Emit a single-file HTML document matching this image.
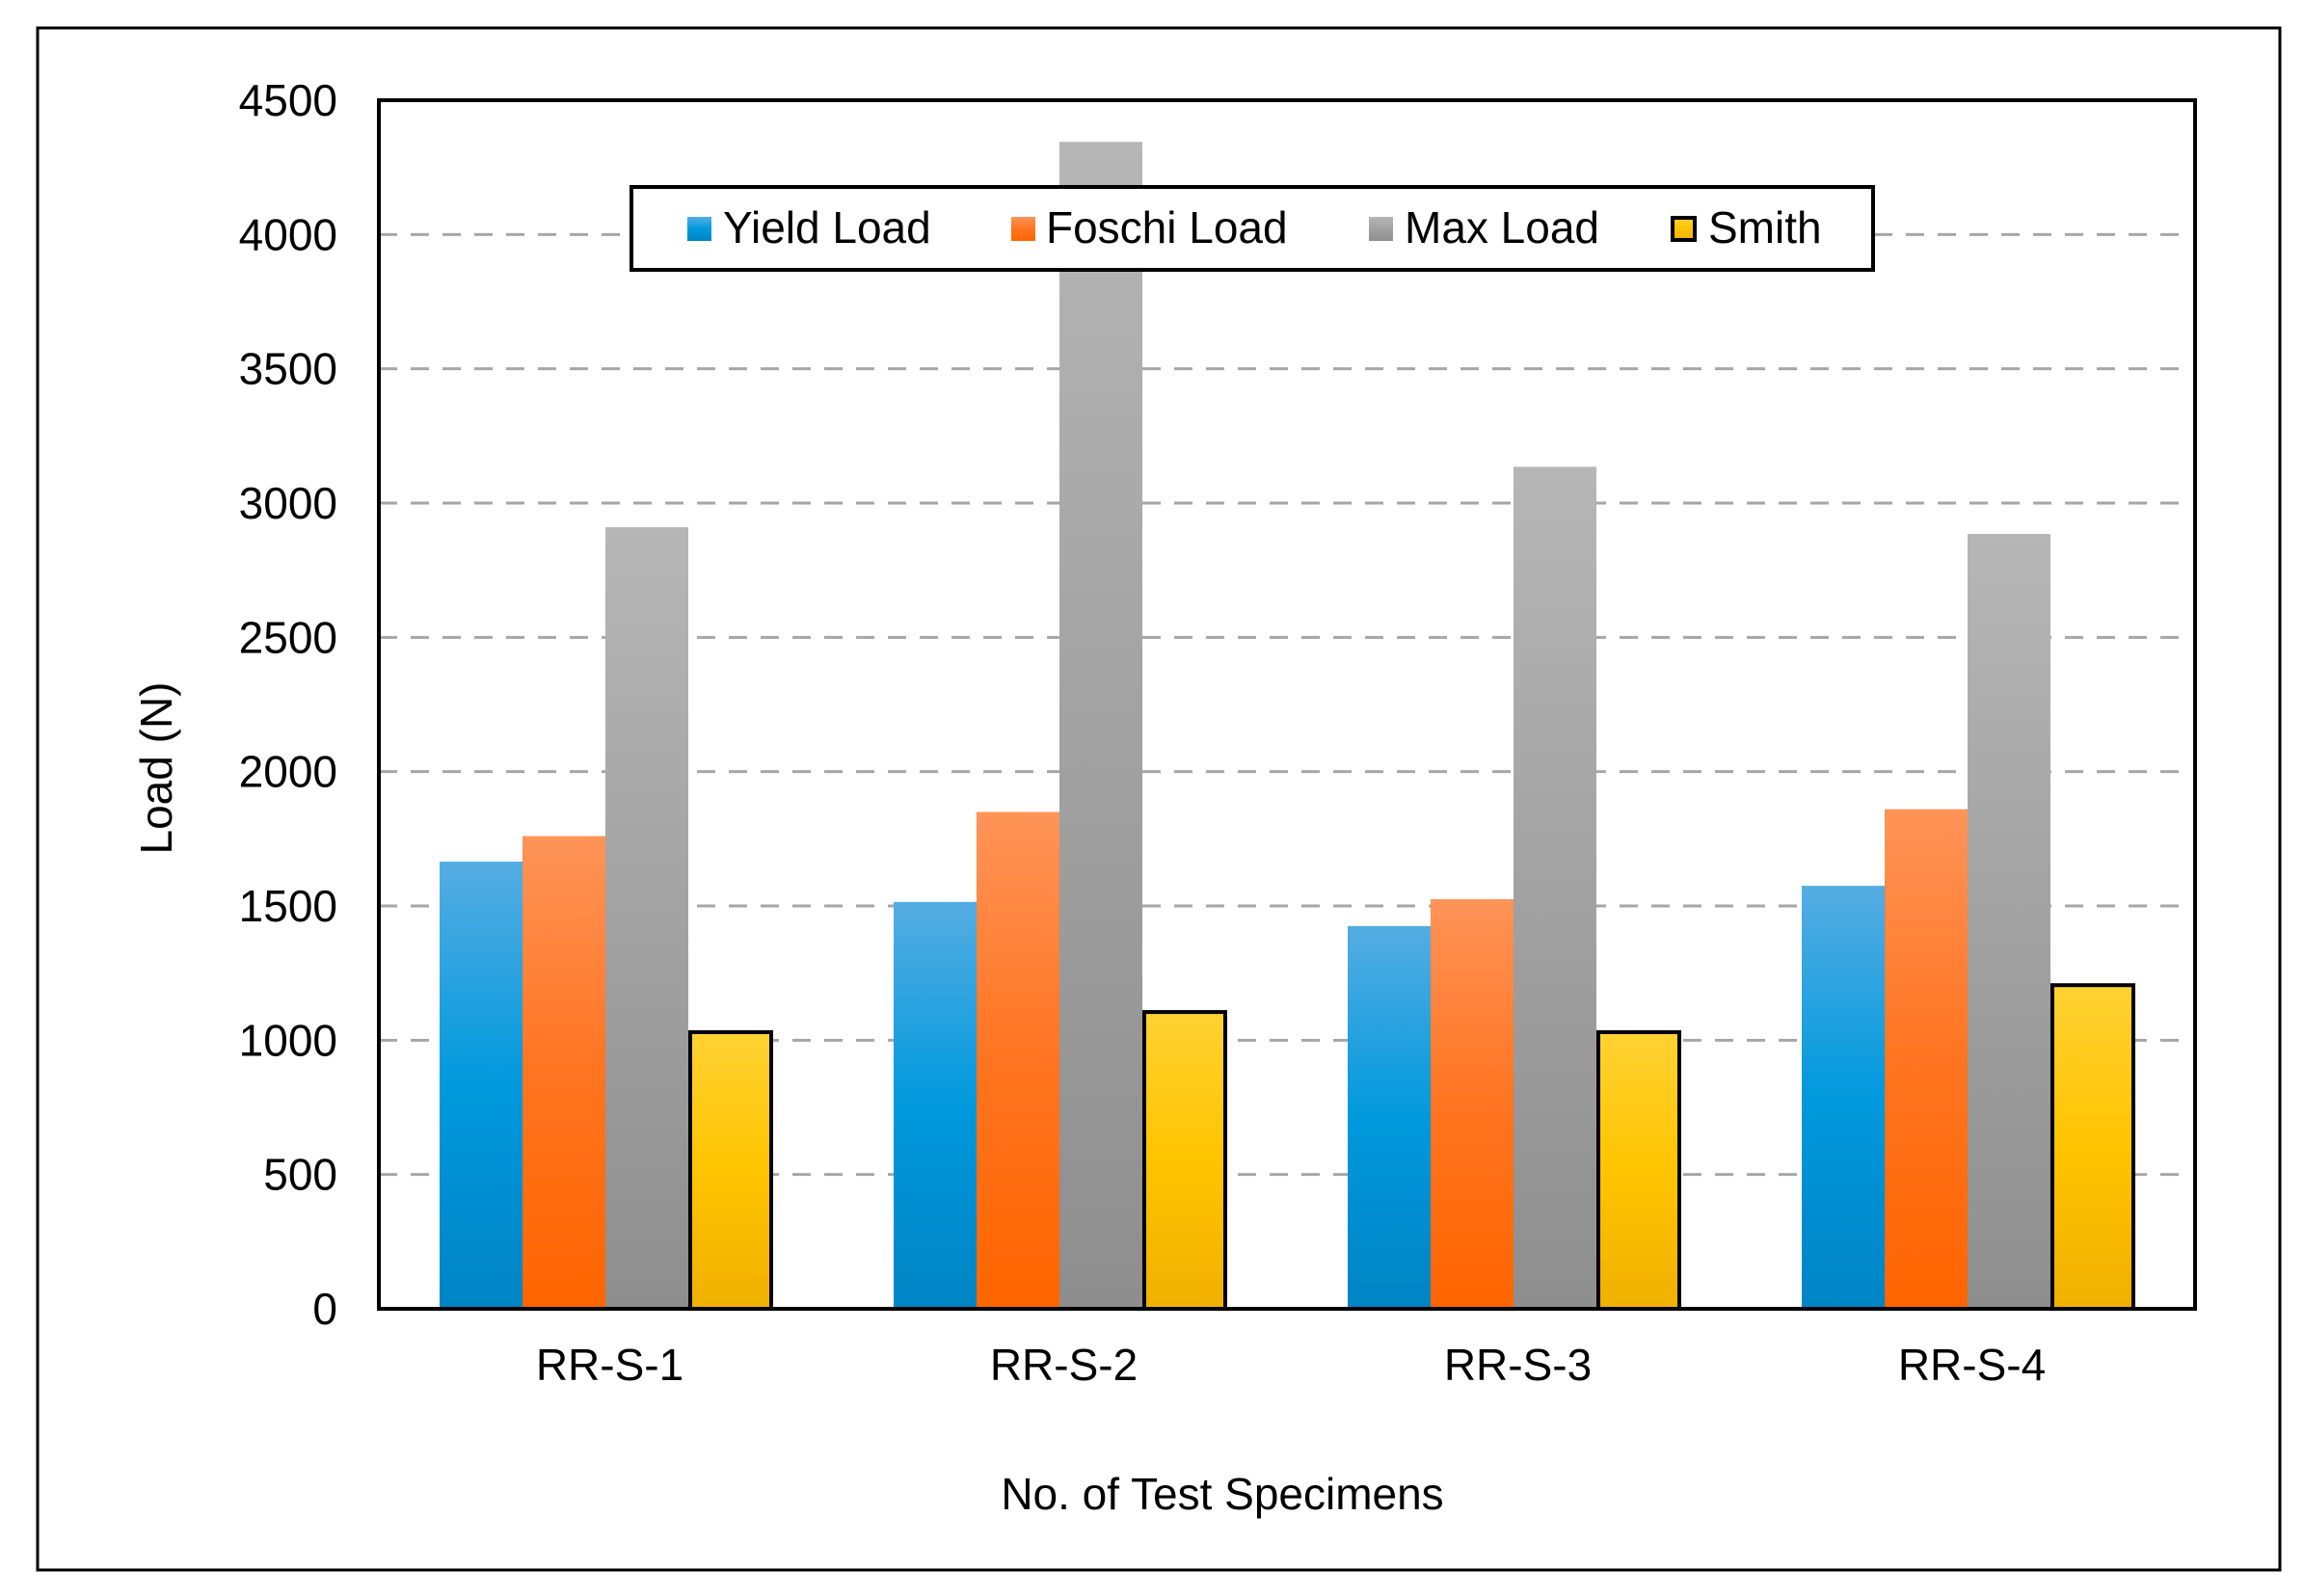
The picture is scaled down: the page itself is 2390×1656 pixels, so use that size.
<!DOCTYPE html>
<html><head><meta charset="utf-8"><style>
html,body{margin:0;padding:0;background:#fff;}
svg{display:block;font-family:"Liberation Sans",Arial,sans-serif;}
</style></head><body>
<svg id="chart" width="2390" height="1656" viewBox="0 0 2390 1656" xmlns="http://www.w3.org/2000/svg">
<defs>
<linearGradient id="gBlue" x1="0" y1="0" x2="0" y2="1"><stop offset="0" stop-color="#55ade2"/><stop offset="0.5" stop-color="#0099dd"/><stop offset="1" stop-color="#0084c4"/></linearGradient>
<linearGradient id="gOrange" x1="0" y1="0" x2="0" y2="1"><stop offset="0" stop-color="#ff9458"/><stop offset="0.5" stop-color="#ff7420"/><stop offset="1" stop-color="#ff6500"/></linearGradient>
<linearGradient id="gGray" x1="0" y1="0" x2="0" y2="1"><stop offset="0" stop-color="#b6b6b6"/><stop offset="1" stop-color="#8e8e8e"/></linearGradient>
<linearGradient id="gYellow" x1="0" y1="0" x2="0" y2="1"><stop offset="0" stop-color="#ffd233"/><stop offset="0.5" stop-color="#ffc400"/><stop offset="1" stop-color="#f0b000"/></linearGradient>
</defs>
<rect x="39" y="29" width="2326" height="1600" fill="#fff" stroke="#000" stroke-width="3"/>
<g id="grid"></g>
<g id="bars"></g>
<rect x="393" y="104" width="1884" height="1254" fill="none" stroke="#000" stroke-width="4"/>
<g id="yticks"></g>
<g id="xcats"></g>
<text x="0" y="0" transform="translate(178,797) rotate(-90)" text-anchor="middle" font-size="46">Load (N)</text>
<text x="1268" y="1566" text-anchor="middle" font-size="46">No. of Test Specimens</text>
<g>
<rect x="655" y="194" width="1288" height="86" fill="#fff" stroke="#000" stroke-width="4"/>
<g><rect x="713" y="225" width="25" height="25" fill="url(#gBlue)"/><text x="750" y="252" font-size="46">Yield Load</text></g>
<g><rect x="1049" y="225" width="25" height="25" fill="url(#gOrange)"/><text x="1085" y="252" font-size="46">Foschi Load</text></g>
<g><rect x="1420" y="225" width="25" height="25" fill="url(#gGray)"/><text x="1457" y="252" font-size="46">Max Load</text></g>
<g><rect x="1735" y="226" width="23" height="23" fill="url(#gYellow)" stroke="#000" stroke-width="4"/><text x="1772" y="252" font-size="46">Smith</text></g>
</g>
</svg>
<script>
const categories = ["RR-S-1","RR-S-2","RR-S-3","RR-S-4"];
const yieldLoad = [1665,1515,1425,1575];
const foschiLoad = [1760,1850,1525,1860];
const maxLoad = [2910,4345,3135,2885];
const smithLoad = [1030,1105,1030,1205];
const yTicks = [0,500,1000,1500,2000,2500,3000,3500,4000,4500];

const NS="http://www.w3.org/2000/svg";
const plotL=393, plotR=2277, plotT=104, plotB=1358, yMax=4500;
function yPos(v){return plotB-(v/yMax)*(plotB-plotT);}
const groupW=(plotR-plotL)/categories.length;
const barW=86, padIn=63;
function xPos(ci,si){return plotL+ci*groupW+padIn+si*barW;}
function mk(tag,attrs){const e=document.createElementNS(NS,tag);for(const k in attrs)e.setAttribute(k,attrs[k]);return e;}

const grid=document.getElementById('grid');
const yt=document.getElementById('yticks');
yTicks.forEach(t=>{
  const y=yPos(t);
  if(t>0&&t<yMax){
    const l=mk('line',{x1:plotL,x2:plotR-10,y1:y,y2:y,stroke:'#a6a6a6','stroke-width':3,'stroke-dasharray':'19 14'});
    
    
    grid.appendChild(l);
  }
  const tx=mk('text',{x:350,y:y+16,'text-anchor':'end','font-size':46});
  
  
  tx.textContent=t;
  yt.appendChild(tx);
});

const series=[
  {name:'yield',vals:yieldLoad,fill:'url(#gBlue)',stroke:null},
  {name:'foschi',vals:foschiLoad,fill:'url(#gOrange)',stroke:null},
  {name:'max',vals:maxLoad,fill:'url(#gGray)',stroke:null},
  {name:'smith',vals:smithLoad,fill:'url(#gYellow)',stroke:'#000'}
];
const bars=document.getElementById('bars');
categories.forEach((c,ci)=>{
  series.forEach((s,si)=>{
    const v=s.vals[ci];
    const x=xPos(ci,si), y=yPos(v);
    const a={x:x,y:y,width:barW,height:plotB-y,fill:s.fill};
    if(s.stroke){a.x=x+2;a.width=barW-2;a.stroke=s.stroke;a['stroke-width']=4;}
    const r=mk('rect',a);
    
    
    bars.appendChild(r);
  });
});
const xc=document.getElementById('xcats');
categories.forEach((c,ci)=>{
  const t=mk('text',{x:plotL+ci*groupW+groupW/2+4,y:1432,'text-anchor':'middle','font-size':46});
  
  
  t.textContent=c;
  xc.appendChild(t);
});
</script>
</body></html>
